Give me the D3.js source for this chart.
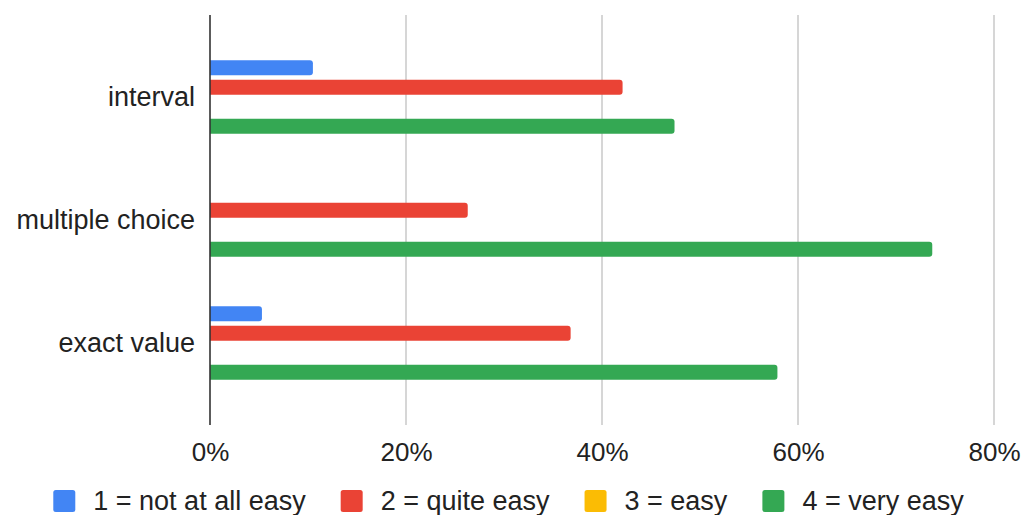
<!DOCTYPE html>
<html><head><meta charset="utf-8">
<script src="https://cdn.jsdelivr.net/npm/d3@7"></script>
<style>html,body{margin:0;padding:0;background:#fff;}svg{display:block;}</style>
</head><body>
<svg id="c" width="1036" height="515"></svg>
<script>
const categories = ["interval", "multiple choice", "exact value"];
const seriesNames = ["1 = not at all easy", "2 = quite easy", "3 = easy", "4 = very easy"];
const seriesColors = ["#4285F4", "#EA4335", "#FBBC04", "#34A853"];
const notAtAllEasy = [0.105, 0.0, 0.053];
const quiteEasy = [0.421, 0.263, 0.368];
const easy = [0.0, 0.0, 0.0];
const veryEasy = [0.474, 0.737, 0.579];
const xTicks = [0, 0.2, 0.4, 0.6, 0.8];

const seriesValues = [notAtAllEasy, quiteEasy, easy, veryEasy];
const FONT = "'Liberation Sans', Arial, Helvetica, sans-serif";

const svg = d3.select("#c");
const x = d3.scaleLinear().domain([0, 0.8]).range([210, 994]);
const y0 = d3.scaleBand().domain(categories).range([15, 425]).paddingInner(0.4024).paddingOuter(0.368);
const y1 = d3.scaleBand().domain(d3.range(4)).range([0, y0.bandwidth()]).paddingInner(0.23).paddingOuter(0);

// gridlines
svg.append("g").selectAll("line").data(xTicks.filter(d => d > 0)).join("line")
  .attr("x1", d => x(d)).attr("x2", d => x(d))
  .attr("y1", 15).attr("y2", 425)
  .attr("stroke", "#cccccc").attr("stroke-width", 1.6);

// bars
function barPath(x0, x1, yt, h, r) {
  const w = x1 - x0;
  if (w <= 0) return "";
  r = Math.min(r, w, h / 2);
  return `M${x0},${yt}H${x1 - r}Q${x1},${yt} ${x1},${yt + r}V${yt + h - r}Q${x1},${yt + h} ${x1 - r},${yt + h}H${x0}Z`;
}
const barData = [];
categories.forEach((c, ci) => seriesValues.forEach((vals, si) => barData.push({c, si, v: vals[ci]})));
svg.append("g").selectAll("path").data(barData.filter(d => d.v > 0)).join("path")
  .attr("d", d => barPath(x(0), x(d.v), y0(d.c) + y1(d.si), y1.bandwidth(), 3))
  .attr("fill", d => seriesColors[d.si]);

// axis line
svg.append("line").attr("x1", x(0)).attr("x2", x(0)).attr("y1", 15).attr("y2", 425)
  .attr("stroke", "#333").attr("stroke-width", 1.6);

// x tick labels
const xAxis = d3.axisBottom(x).tickValues(xTicks).tickFormat(d3.format(".0%")).tickSize(0).tickPadding(0);
const gx = svg.append("g").attr("transform", "translate(0,443)").call(xAxis);
gx.select(".domain").remove();
gx.selectAll("text").attr("font-family", FONT).attr("font-size", 26).attr("fill", "#222").attr("dy", "0.71em");

// category labels
const yAxis = d3.axisLeft(y0).tickSize(0).tickPadding(15);
const gy = svg.append("g").attr("transform", `translate(${x(0)},0)`).call(yAxis);
gy.select(".domain").remove();
gy.selectAll("text").attr("font-family", FONT).attr("font-size", 27).attr("fill", "#222");

// legend
const leg = svg.append("g");
const items = leg.selectAll("g").data(seriesNames).join("g");
items.append("rect").attr("width", 22).attr("height", 22).attr("rx", 2.5).attr("y", 490)
  .attr("fill", (d, i) => seriesColors[i]);
items.append("text").attr("x", 40).attr("y", 510).text(d => d)
  .attr("font-family", FONT).attr("font-size", 27).attr("fill", "#222");
let pos = 0;
const offsets = [];
items.each(function() {
  offsets.push(pos);
  const tw = d3.select(this).select("text").node().getComputedTextLength();
  pos += 40 + tw + 35;
});
const total = pos - 35;
const startX = 508.5 - total / 2;
items.attr("transform", (d, i) => `translate(${startX + offsets[i]},0)`);
</script>
</body></html>
